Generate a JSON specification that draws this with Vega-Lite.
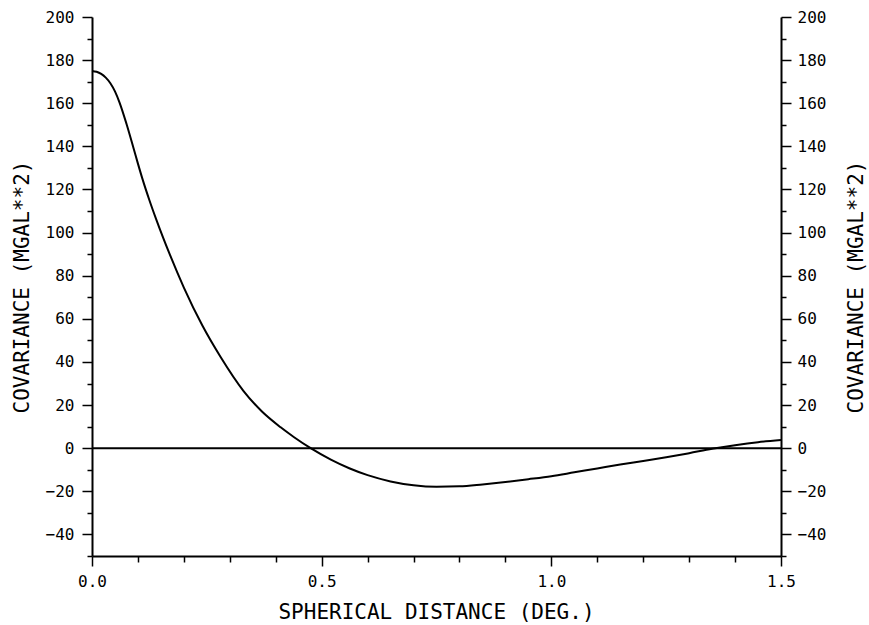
{
  "$schema": "https://vega.github.io/schema/vega-lite/v6.json",
  "width": 689,
  "height": 539,
  "autosize": {"type": "none"},
  "padding": {"left": 92, "top": 17, "right": 88, "bottom": 69},
  "background": "white",
  "config": {
    "view": {"stroke": null},
    "axis": {
      "domainColor": "black",
      "domainWidth": 2,
      "tickColor": "black",
      "tickWidth": 1.5,
      "labelColor": "black",
      "titleColor": "black",
      "labelFont": "DejaVu Sans Mono",
      "titleFont": "DejaVu Sans Mono",
      "labelFontSize": 16,
      "titleFontSize": 21,
      "titleFontWeight": "normal",
      "grid": false,
      "labelOverlap": false,
      "labelFlush": false
    }
  },
  "layer": [
    {
      "data": {
        "values": [
          {"distance": 0.0, "covariance": 175},
          {"distance": 0.01, "covariance": 174.6},
          {"distance": 0.02, "covariance": 173.6},
          {"distance": 0.03, "covariance": 171.9},
          {"distance": 0.04, "covariance": 169.3},
          {"distance": 0.05, "covariance": 165.5},
          {"distance": 0.06, "covariance": 160.3},
          {"distance": 0.075, "covariance": 150.5},
          {"distance": 0.09, "covariance": 139.5},
          {"distance": 0.1, "covariance": 132},
          {"distance": 0.11, "covariance": 124.8},
          {"distance": 0.125, "covariance": 115},
          {"distance": 0.14, "covariance": 106},
          {"distance": 0.17, "covariance": 89.5},
          {"distance": 0.2, "covariance": 74.5},
          {"distance": 0.24, "covariance": 57},
          {"distance": 0.28, "covariance": 42.3},
          {"distance": 0.33, "covariance": 26.5},
          {"distance": 0.37, "covariance": 17.0},
          {"distance": 0.41, "covariance": 9.8},
          {"distance": 0.44, "covariance": 5.1},
          {"distance": 0.476, "covariance": 0},
          {"distance": 0.52, "covariance": -5.3},
          {"distance": 0.56, "covariance": -9.3},
          {"distance": 0.6, "covariance": -12.5},
          {"distance": 0.65, "covariance": -15.4},
          {"distance": 0.7, "covariance": -17.2},
          {"distance": 0.75, "covariance": -17.9},
          {"distance": 0.8, "covariance": -17.7},
          {"distance": 0.85, "covariance": -16.8},
          {"distance": 0.9, "covariance": -15.7},
          {"distance": 0.95, "covariance": -14.4},
          {"distance": 1.0, "covariance": -13},
          {"distance": 1.05, "covariance": -11.2},
          {"distance": 1.1, "covariance": -9.4},
          {"distance": 1.15, "covariance": -7.6},
          {"distance": 1.2, "covariance": -5.9},
          {"distance": 1.25, "covariance": -4.2},
          {"distance": 1.3, "covariance": -2.3},
          {"distance": 1.35, "covariance": -0.3},
          {"distance": 1.4, "covariance": 1.4},
          {"distance": 1.45, "covariance": 2.8},
          {"distance": 1.5, "covariance": 3.8}
        ]
      },
      "mark": {"type": "line", "color": "black", "strokeWidth": 2, "interpolate": "monotone"},
      "encoding": {
        "x": {
          "field": "distance",
          "type": "quantitative",
          "scale": {"domain": [0, 1.5], "nice": false, "zero": false},
          "axis": {
            "orient": "bottom",
            "values": [0, 0.1, 0.2, 0.3, 0.4, 0.5, 0.6, 0.7, 0.8, 0.9, 1.0, 1.1, 1.2, 1.3, 1.4, 1.5],
            "labelExpr": "round(datum.value * 10) % 5 === 0 ? format(datum.value, '.1f') : ''",
            "tickSize": {"condition": {"test": "round(datum.value * 10) % 5 === 0", "value": 10}, "value": 6},
            "labelPadding": 7,
            "title": "SPHERICAL DISTANCE (DEG.)",
            "titleX": 344,
            "titleY": 56,
            "titleAlign": "center",
            "titleBaseline": "middle"
          }
        },
        "y": {
          "field": "covariance",
          "type": "quantitative",
          "scale": {"domain": [-50, 200], "nice": false, "zero": false},
          "axis": {
            "orient": "left",
            "values": [-50, -40, -30, -20, -10, 0, 10, 20, 30, 40, 50, 60, 70, 80, 90, 100, 110, 120, 130, 140, 150, 160, 170, 180, 190, 200],
            "labelExpr": "datum.value % 20 === 0 ? format(datum.value, 'd') : ''",
            "tickSize": {"condition": {"test": "datum.value % 20 === 0", "value": 10}, "value": 5},
            "labelPadding": 8,
            "title": "COVARIANCE (MGAL**2)",
            "titleX": -70,
            "titleY": 269.5,
            "titleAngle": 270,
            "titleAlign": "center",
            "titleBaseline": "middle"
          }
        }
      }
    },
    {
      "data": {"values": [{"level": 0}]},
      "mark": {"type": "rule", "color": "black", "strokeWidth": 2},
      "encoding": {
        "y": {
          "field": "level",
          "type": "quantitative",
          "scale": {"domain": [-50, 200], "nice": false, "zero": false},
          "axis": {
            "orient": "right",
            "values": [-50, -40, -30, -20, -10, 0, 10, 20, 30, 40, 50, 60, 70, 80, 90, 100, 110, 120, 130, 140, 150, 160, 170, 180, 190, 200],
            "labelExpr": "datum.value % 20 === 0 ? format(datum.value, 'd') : ''",
            "tickSize": {"condition": {"test": "datum.value % 20 === 0", "value": 10}, "value": 5},
            "labelPadding": 6,
            "title": "COVARIANCE (MGAL**2)",
            "titleX": 75,
            "titleY": 269.5,
            "titleAngle": 270,
            "titleAlign": "center",
            "titleBaseline": "middle"
          }
        }
      }
    }
  ],
  "resolve": {"scale": {"y": "independent"}}
}
